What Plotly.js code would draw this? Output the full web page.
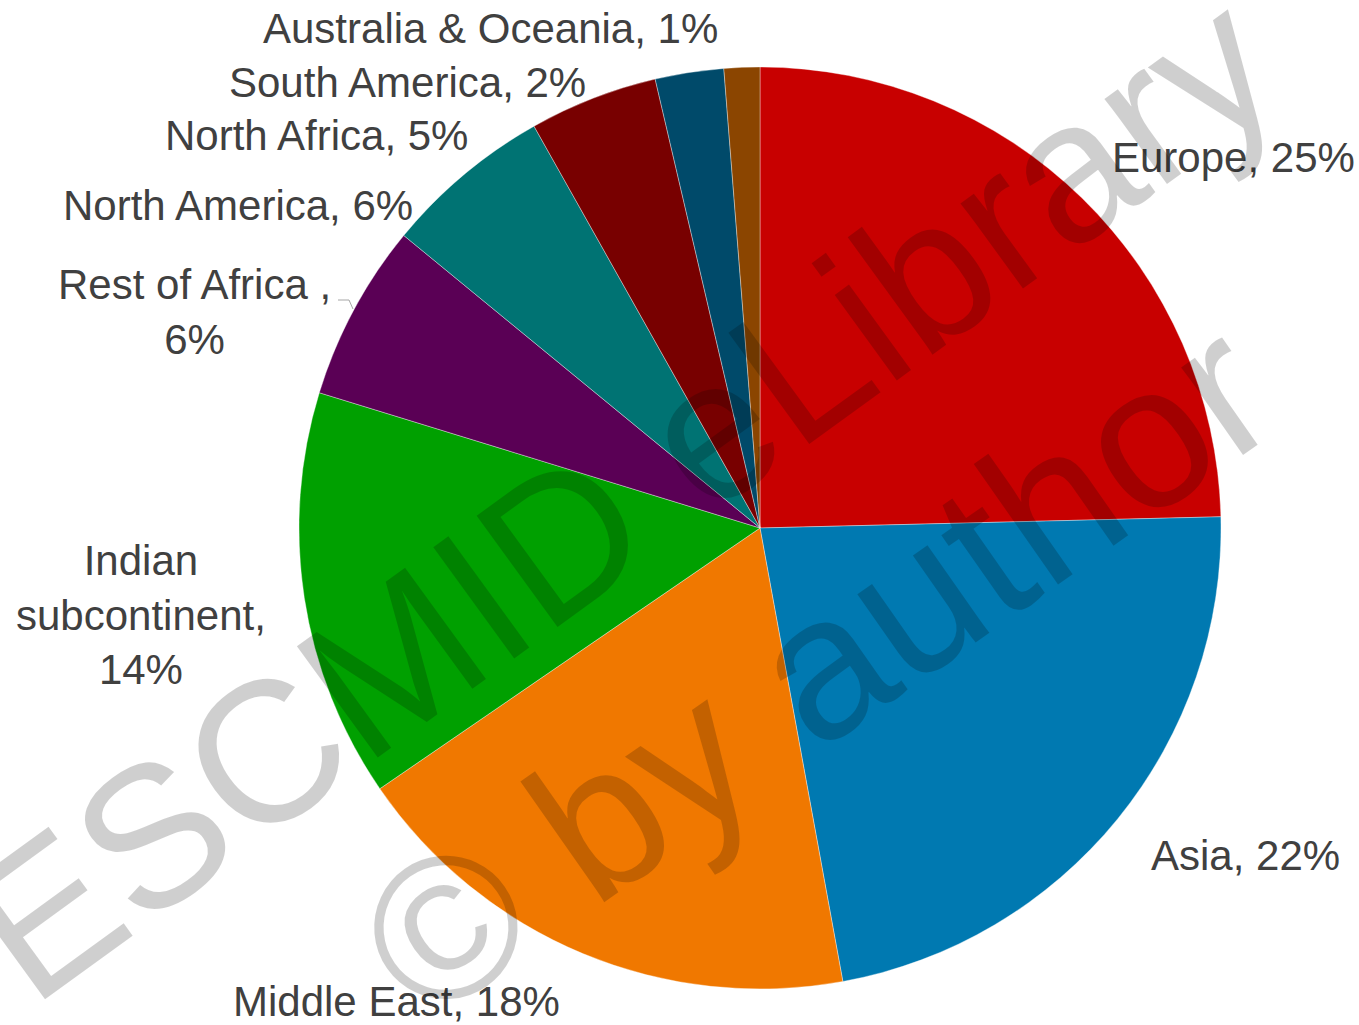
<!DOCTYPE html>
<html>
<head>
<meta charset="utf-8">
<script src="https://cdn.plot.ly/plotly-3.0.1.min.js"></script>
<style>html,body{margin:0;padding:0;background:#fff;}#chart{width:1359px;height:1025px;}</style>
</head>
<body>
<div id="chart"></div>
<script>
// ---- data ----
const regions = ["Europe", "Asia", "Middle East", "Indian subcontinent", "Rest of Africa ", "North America", "North Africa", "South America", "Australia & Oceania"];
const shares = [24.6, 22.5, 18.3, 14.3, 6.2, 5.9, 4.5, 2.4, 1.25];
const pctLabels = ["25%", "22%", "18%", "14%", "6%", "6%", "5%", "2%", "1%"];
const labelTexts = ["Europe, 25%", "Asia, 22%", "Middle East, 18%", "Indian<br>subcontinent,<br>14%", "Rest of Africa ,<br>6%", "North America, 6%", "North Africa, 5%", "South America, 2%", "Australia & Oceania, 1%"];
const sliceColors = ["#C80000", "#0079B1", "#F07800", "#00A000", "#5A0055", "#007373", "#780000", "#004A6A", "#8B4500"];

// ---- layout helpers (pixel -> paper) ----
const W = 1359, H = 1025;
const px = x => x / W;
const py = y => 1 - y / H;
const labelPos = [[1233,157],[1245,855],[397,1001],[141,615],[194,312],[238,206],[316,135],[408,83],[490,28]];

const cx = 760, cy = 528, r = 461;

const trace = {
  type: "pie",
  labels: regions,
  values: shares,
  sort: false,
  direction: "clockwise",
  rotation: 0,
  textinfo: "none",
  hoverinfo: "label+percent",
  marker: {colors: sliceColors, line: {color: "rgba(255,255,255,0.6)", width: 0.6}},
  domain: {x: [px(cx - r), px(cx + r)], y: [py(cy + r), py(cy - r)]},
  showlegend: false
};

const annotations = labelTexts.map((t, i) => ({
  text: t, x: px(labelPos[i][0]), y: py(labelPos[i][1]), xref: "paper", yref: "paper",
  xanchor: "center", yanchor: "middle", showarrow: false, align: "center",
  font: {family: "Liberation Sans, Arial, sans-serif", size: 42, color: "#404040"}
}));

// watermark
annotations.push({
  text: "ESCMID eLibrary", x: px(620), y: py(495), xref: "paper", yref: "paper",
  xanchor: "center", yanchor: "middle", showarrow: false, textangle: -36,
  font: {family: "Liberation Sans, Arial, sans-serif", size: 200, color: "rgba(0,0,0,0.19)"}
});
annotations.push({
  text: "© by author", x: px(815), y: py(668), xref: "paper", yref: "paper",
  xanchor: "center", yanchor: "middle", showarrow: false, textangle: -35,
  font: {family: "Liberation Sans, Arial, sans-serif", size: 203, color: "rgba(0,0,0,0.19)"}
});

const layout = {
  width: W, height: H,
  margin: {l: 0, r: 0, t: 0, b: 0},
  paper_bgcolor: "#ffffff",
  annotations: annotations,
  shapes: [{
    type: "path", xref: "paper", yref: "paper",
    path: `M ${px(338)} ${py(300)} L ${px(349)} ${py(300)} L ${px(353)} ${py(309)}`,
    line: {color: "#a6a6a6", width: 1}
  }]
};

Plotly.newPlot("chart", [trace], layout, {displayModeBar: false, staticPlot: true});
</script>
</body>
</html>
